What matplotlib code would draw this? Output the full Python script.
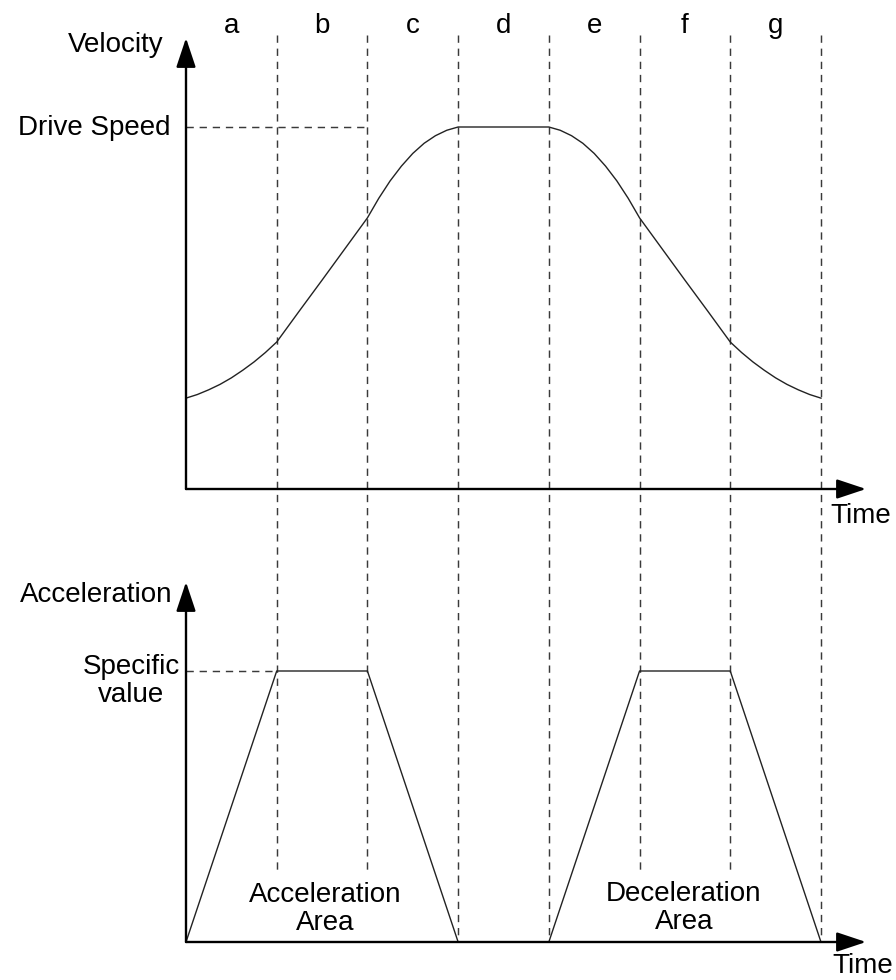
import numpy as np
import matplotlib.pyplot as plt
from matplotlib import transforms

W, H = 896, 980

# Czas w jednostkach odcinkow a..g
segments = ['a', 'b', 'c', 'd', 'e', 'f', 'g']
boundaries = [1, 2, 3, 4, 5, 6, 7]

# Predkosc (1.0 = Drive Speed), odczyt co 1/8 odcinka
t_acc = [0, 0.125, 0.25, 0.375, 0.5, 0.625, 0.75, 0.875, 1.0,
         1.25, 1.5, 1.75, 2.0,
         2.125, 2.25, 2.375, 2.5, 2.625, 2.75, 2.875, 3.0]
v_acc = [0.251, 0.261, 0.274, 0.289, 0.307, 0.328, 0.351, 0.377, 0.406,
         0.492, 0.577, 0.663, 0.749,
         0.803, 0.851, 0.892, 0.927, 0.955, 0.976, 0.991, 1.0]
t_vel = t_acc + [4 + (3 - t) for t in t_acc[::-1]]
v_vel = v_acc + v_acc[::-1]
drive_speed = 1.0

# Przyspieszenie (1.0 = Specific value)
t_a = [0, 1, 2, 3, 4, 5, 6, 7]
a_val = [0, 1, 1, 0, 0, 1, 1, 0]
specific = 1.0

plt.rcParams['font.family'] = ['Liberation Sans', 'DejaVu Sans']
fs = 20

fig = plt.figure(figsize=(W / 100, H / 100), dpi=100)

# osie na calej figurze, skala dobrana do pikseli
x0, dx = 186, 90.71
ax_v = fig.add_axes([0, 0, 1, 1])
ax_v.set_xlim(-x0 / dx, (W - x0) / dx)
ax_v.set_ylim((489 - H) / 362, 489 / 362)
ax_v.axis('off')

ax_a = fig.add_axes([0, 0, 1, 1], sharex=ax_v)
ax_a.set_ylim((942 - H) / 271, 942 / 271)
ax_a.axis('off')
ax_a.patch.set_alpha(0)


def fy(py):
    return 1 - py / H


def fx(px):
    return px / W


dash = dict(color='#3a3a3a', lw=1.05, linestyle=(0, (5, 4)))
bt = transforms.blended_transform_factory(ax_v.transData, fig.transFigure)

# pionowe linie przerywane
for b in boundaries:
    bottom = 942 if b in (3, 4, 7) else 875
    ax_v.plot([b, b], [fy(35), fy(bottom)], transform=bt, **dash)

# litery odcinkow
for i, s in enumerate(segments):
    ax_v.text(i + 0.5, fy(33), s, transform=bt, ha='center', va='baseline', fontsize=fs)

# Predkosc
arrow = dict(arrowstyle='-|>,head_length=0.9,head_width=0.3', lw=1.7, color='black',
             mutation_scale=20, shrinkA=0, shrinkB=0)
ax_v.annotate('', xy=(0, (489 - 38) / 362), xytext=(0, 0), arrowprops=arrow)
ax_v.annotate('', xy=((866 - x0) / dx, 0), xytext=(0, 0), arrowprops=arrow)
ax_v.plot([0, 2], [drive_speed, drive_speed], **dash)
ax_v.plot(t_vel, v_vel, color='#222222', lw=1.0)

fig.text(fx(163), fy(52), 'Velocity', ha='right', va='baseline', fontsize=fs)
fig.text(fx(170), fy(135), 'Drive Speed', ha='right', va='baseline', fontsize=fs)
fig.text(fx(830), fy(523), 'Time', ha='left', va='baseline', fontsize=fs)

# Przyspieszenie
ax_a.annotate('', xy=(0, (942 - 582) / 271), xytext=(0, 0), arrowprops=arrow)
ax_a.annotate('', xy=((866 - x0) / dx, 0), xytext=(0, 0), arrowprops=arrow)
ax_a.plot([0, 1], [specific, specific], **dash)
ax_a.plot(t_a, a_val, color='#222222', lw=1.0)

fig.text(fx(172), fy(602), 'Acceleration', ha='right', va='baseline', fontsize=fs)
fig.text(fx(131), fy(681), 'Specific\nvalue', ha='center', va='center', fontsize=fs,
         linespacing=1.05)
fig.text(fx(325), fy(909), 'Acceleration\nArea', ha='center', va='center', fontsize=fs,
         linespacing=1.1)
fig.text(fx(684), fy(908), 'Deceleration\nArea', ha='center', va='center', fontsize=fs,
         linespacing=1.1)
fig.text(fx(832), fy(973), 'Time', ha='left', va='baseline', fontsize=fs)

fig.savefig('out.png', dpi=100, facecolor='white')
